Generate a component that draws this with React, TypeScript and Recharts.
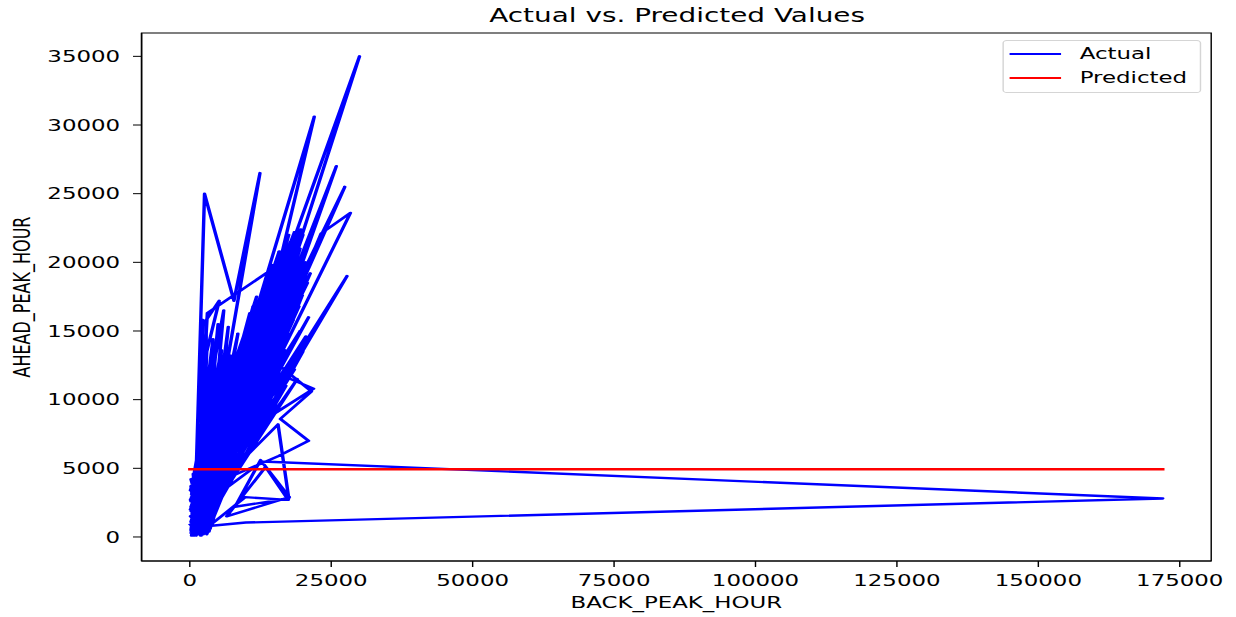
import { LineChart, Line, XAxis, YAxis, ReferenceArea } from "recharts";

// the reference picture is horizontally stretched, so the chart is drawn
// narrower and scaled along x
const STRETCH = 1.43;
const WIDTH = 864;
const HEIGHT = 617;
const FONT = "DejaVu Sans";

const xTicks = [0, 25000, 50000, 75000, 100000, 125000, 150000, 175000];
const yTicks = [0, 5000, 10000, 15000, 20000, 25000, 30000, 35000];
const xDomain = [-8528, 180560];
const yDomain = [-1750, 36700];

// [BACK_PEAK_HOUR, AHEAD_PEAK_HOUR], in row order
const actualPoints: [number, number][] = [
  [400, 200], [1200, 1800], [300, 2900], [2500, 600], [14500, 17000], [800, 900],
  [16200, 18500], [1500, 2400], [12000, 15500], [200, 500], [1000, 3000], [2600, 25000],
  [7800, 17200], [12400, 26500], [4000, 6500], [18000, 20000], [2200, 1200], [10500, 14000],
  [3000, 300], [15000, 19000], [600, 1600], [4000, 13000], [1800, 3600], [17200, 17800],
  [2800, 2000], [9000, 13500], [100, 3400], [19500, 21000], [3500, 1000], [13500, 16000],
  [1400, 400], [5000, 15500], [2400, 2900], [11200, 16800], [500, 1200], [30000, 35000],
  [14000, 14500], [1100, 2200], [16800, 20500], [3200, 3800], [8000, 12000], [900, 300],
  [3100, 16300], [16000, 19900], [2000, 4200], [18600, 19000], [300, 800], [22000, 30600],
  [9000, 8000], [2700, 1400], [14000, 18200], [700, 2600], [3500, 11000], [1900, 900],
  [12800, 14200], [3800, 2600], [20000, 22000], [200, 1900], [7000, 11500], [2300, 3300],
  [15600, 16500], [4200, 1600], [25900, 27000], [11500, 11800], [1600, 3000], [10000, 15200],
  [400, 3800], [6000, 16500], [2900, 2400], [17800, 21500], [1200, 1000], [13000, 17500],
  [3600, 600], [6500, 10000], [800, 4500], [19000, 18000], [2100, 2000], [27400, 25500],
  [12000, 12500], [4500, 3200], [11800, 13000], [500, 100], [16000, 15500], [3300, 1900],
  [4500, 9000], [1300, 4900], [9500, 11000], [2600, 3400], [18500, 22200], [300, 2300],
  [14800, 14500], [3900, 4200], [8500, 14800], [1700, 1300], [28400, 23600], [23200, 22100],
  [13000, 12000], [2400, 200], [17000, 19500], [1000, 2000], [12200, 11500], [3400, 3000],
  [20500, 20000], [600, 600], [10800, 12200], [2200, 4600], [15200, 17200], [4800, 2400],
  [7500, 9000], [900, 3500], [5500, 12500], [2000, 1600], [13800, 13200], [3000, 4800],
  [18200, 17000], [1500, 700], [27800, 19000], [12500, 9000], [3700, 3600], [11500, 15000],
  [200, 1100], [16500, 19200], [2500, 2600], [9200, 10000], [1100, 4000], [14200, 15500],
  [3600, 2200], [19800, 19800], [700, 1400], [6000, 8500], [2800, 4400], [12500, 16500],
  [1800, 500], [6500, 14000], [4000, 3800], [17500, 16500], [400, 2700], [10200, 13000],
  [2300, 1100], [15800, 20800], [1400, 3200], [8800, 11800], [3100, 800], [13200, 12500],
  [900, 1800], [18800, 20500], [4400, 4600], [11000, 10500], [2000, 3000], [15000, 12000],
  [21900, 10800], [15400, 9100], [3200, 5200], [16300, 17000], [1600, 2100], [7800, 10500],
  [500, 4200], [15500, 12600], [21500, 10600], [16000, 8600], [21000, 7000], [15700, 5900],
  [5000, 4000], [14600, 19800], [2700, 900], [12000, 13800], [300, 3100], [3200, 7500],
  [1900, 2700], [19200, 21800], [3400, 1500], [9800, 12500], [1000, 200], [15400, 14000],
  [2600, 4000], [17600, 18400], [600, 2000], [15600, 8200], [17500, 2800], [8000, 2200],
  [12500, 5600], [17600, 2900], [6500, 1500], [13400, 5100], [17400, 2700], [9800, 2900],
  [2200, 400], [4600, 11500], [1200, 2600], [2800, 9000], [500, 400], [5800, 7000],
  [3500, 2900], [11000, 7500], [1300, 1500], [9500, 6000], [2400, 3800], [8000, 5000],
  [1500, 200], [9500, 14500], [800, 1500], [7200, 13200], [2300, 600], [11800, 17500],
  [200, 2600], [5400, 11000], [2900, 1700], [13600, 18800], [1100, 300], [8300, 13000],
  [2500, 3700], [6200, 12000], [600, 900], [10600, 16300], [3300, 500], [4800, 10200],
  [1700, 4300], [12300, 14800], [400, 1700], [3800, 12300], [2100, 2300], [9900, 14000],
  [3000, 1100], [5600, 13600], [900, 4100], [14300, 16800], [2700, 300], [7600, 12800],
  [1300, 2900], [4300, 8000], [200, 300], [11200, 13500], [3500, 2300], [6800, 15300],
  [1900, 100], [16600, 18000], [700, 3300], [5200, 9500], [2600, 1300], [8700, 10600],
  [1000, 4700], [13900, 17800], [3100, 2700], [4100, 14400], [500, 2400], [10400, 11200],
  [2300, 4000], [6700, 11200], [1500, 1000], [15100, 18600], [3900, 900], [7300, 9800],
  [600, 3700], [12700, 13400], [2900, 3200], [5900, 10600], [1200, 200], [9300, 12800],
  [3600, 4100], [4900, 6800], [400, 1300], [14700, 16000], [2200, 2700], [7000, 8200],
  [1600, 3700], [11900, 16100], [3400, 400], [3600, 9600], [800, 2300], [8400, 9600],
  [2800, 4900], [13300, 15200], [1100, 1200], [6300, 9200], [2000, 4400], [10700, 12800],
  [300, 600], [5300, 8200], [2600, 2000], [16900, 16000], [1400, 3400], [9700, 9300],
  [3800, 1300], [4400, 7200], [700, 100], [12100, 10800], [2400, 1500], [7100, 7600],
  [1800, 4800], [14400, 13200], [3200, 2000], [5600, 5800], [500, 3000], [10300, 9200],
  [2100, 800], [8600, 8600], [1300, 1900], [13600, 11600], [3700, 3100], [6600, 6200],
  [900, 500], [11300, 9800], [2700, 4600], [3900, 6000], [1000, 3600], [8900, 7000],
  [2300, 200], [14100, 12400], [3500, 3500], [7700, 6600], [600, 1000], [10900, 8600],
  [1800, 3500], [2300, 15800], [2000, 4000], [2900, 14000], [2900, 15800], [5200, 17200],
  [3000, 13500], [1900, 3200], [100, 2000], [3000, 3600], [200, 4200], [2800, 500],
  [100, 1500], [3300, 2500], [600, 4600], [1700, 200], [3900, 3000], [100, 2700],
  [2400, 4500], [300, 100], [3600, 1800], [200, 3700],
  [1200, 700], [18000, 14000], [2500, 1800], [19500, 15000], [800, 2900], [20000, 13500],
  [3300, 1200], [17000, 11000], [1500, 3900], [18500, 12200], [400, 500], [21000, 16000],
  [2900, 2900], [16500, 10000], [1800, 600], [19000, 11500], [3700, 2400], [20500, 14600],
  [700, 1900], [17800, 12800], [2600, 4300], [19300, 16800], [1100, 100], [16800, 13600],
  [3400, 3900], [20800, 18500], [500, 3300], [18300, 15800], [2200, 1400], [21300, 19200],
  [1300, 4400], [17400, 14800], [3000, 200], [19900, 17600], [900, 2700], [15800, 11200],
  [2700, 3000], [20600, 21200], [1600, 1700], [19600, 22400], [400, 4000], [17500, 22000],
  [3200, 1000], [18900, 21600], [2000, 2200],
  [12800, 5500], [172000, 2800], [9900, 1050], [3400, 800], [1000, 600], [200, 2200],
  [2000, 100], [100, 900],
];

const predictedPoints: [number, number][] = [
  [0, 4930],
  [172000, 4930],
];

const actualData = actualPoints.map(([x, y]) => ({ x, y }));
const predictedData = predictedPoints.map(([x, y]) => ({ x, y }));

const tickStyle = { fontSize: 16, fill: "#000", fontFamily: FONT };

function LegendRow({ color, label }: { color: string; label: string }) {
  return (
    <div style={{ display: "flex", alignItems: "center", height: 24 }}>
      <div style={{ width: 36, height: 2.4, background: color, marginLeft: 4 }} />
      <span style={{ marginLeft: 13, lineHeight: "24px" }}>{label}</span>
    </div>
  );
}

export default function App() {
  return (
    <div
      style={{
        position: "absolute",
        left: 0,
        top: 0,
        width: WIDTH,
        height: HEIGHT,
        transform: `scaleX(${STRETCH})`,
        transformOrigin: "0 0",
        background: "#fff",
      }}
    >
      <div
        style={{
          position: "absolute",
          left: 99,
          width: 749,
          top: 4,
          textAlign: "center",
          fontFamily: FONT,
          fontSize: 19.5,
          color: "#000",
        }}
      >
        Actual vs. Predicted Values
      </div>
      <LineChart
        width={WIDTH}
        height={HEIGHT}
        margin={{ top: 33, right: 17, bottom: 0, left: 0 }}
      >
        <XAxis
          dataKey="x"
          type="number"
          domain={xDomain}
          ticks={xTicks}
          height={56}
          tick={tickStyle}
          tickSize={6}
          tickMargin={8}
          axisLine={{ stroke: "#000" }}
          tickLine={{ stroke: "#000" }}
          label={{
            value: "BACK_PEAK_HOUR",
            position: "insideBottom",
            offset: 9,
            style: { fontSize: 16, fill: "#000", fontFamily: FONT },
          }}
        />
        <YAxis
          dataKey="y"
          type="number"
          domain={yDomain}
          ticks={yTicks}
          width={99}
          tick={tickStyle}
          tickSize={6}
          tickMargin={9}
          axisLine={{ stroke: "#000" }}
          tickLine={{ stroke: "#000" }}
          label={{
            value: "AHEAD_PEAK_HOUR",
            angle: -90,
            position: "insideLeft",
            offset: 15.6,
            textAnchor: "middle",
            style: { fontSize: 16, fill: "#000", fontFamily: FONT, textAnchor: "middle" },
          }}
        />
        <ReferenceArea
          x1={xDomain[0]}
          x2={xDomain[1]}
          y1={yDomain[0]}
          y2={yDomain[1]}
          fill="none"
          stroke="#000"
          strokeWidth={1}
          ifOverflow="visible"
        />
        <Line
          data={actualData}
          dataKey="y"
          type="linear"
          stroke="#0000ff"
          strokeWidth={2.4}
          strokeLinejoin="round"
          strokeLinecap="square"
          dot={false}
          isAnimationActive={false}
        />
        <Line
          data={predictedData}
          dataKey="y"
          type="linear"
          stroke="#ff0000"
          strokeWidth={2.4}
          strokeLinecap="square"
          dot={false}
          isAnimationActive={false}
        />
      </LineChart>
      <div
        style={{
          position: "absolute",
          left: 701,
          top: 40,
          width: 139,
          height: 53,
          boxSizing: "border-box",
          border: "1px solid #d5d5d5",
          borderRadius: 3,
          background: "rgba(255,255,255,0.8)",
          fontFamily: FONT,
          fontSize: 16,
          color: "#000",
          paddingTop: 1,
        }}
      >
        <LegendRow color="#0000ff" label="Actual" />
        <LegendRow color="#ff0000" label="Predicted" />
      </div>
    </div>
  );
}
